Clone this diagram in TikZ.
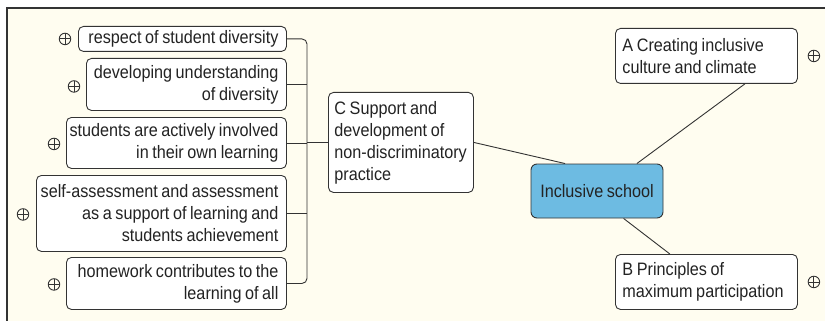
\documentclass[tikz,border=0pt]{standalone}
\usepackage{fontspec}
\setmainfont[FakeStretch=0.9]{Liberation Sans}
\usetikzlibrary{calc}
\definecolor{paper}{HTML}{FFFDF0}
\definecolor{ink}{HTML}{232323}
\definecolor{edge}{HTML}{333333}
\definecolor{rootblue}{HTML}{6DBBE2}
% narrow interword space for the diagram labels
\newskip\labelspace
\labelspace=3.6pt plus 1pt minus 0.5pt
\newcommand\tightspaces{\spaceskip=\labelspace}
% one unbreakable line, flush right or flush left in the text block
\newcommand\rline[1]{\makebox[\linewidth][r]{#1}}
\newcommand\lline[1]{\makebox[\linewidth][l]{#1}}
\begin{document}
\begin{tikzpicture}[x=1pt,y=-1pt,
  txt/.style={font=\fontsize{18}{22}\selectfont, text=ink,
    execute at begin node=\tightspaces},
  topic/.style={txt, draw=edge, line width=0.9pt, fill=white, rounded corners=5pt,
    inner ysep=1pt, anchor=north west},
  leaf/.style={topic, inner xsep=8pt, align=right},
  branch/.style={topic, inner xsep=7pt, align=left},
  root/.style={txt, draw=edge, line width=0.9pt, fill=rootblue, rounded corners=6pt,
    minimum width=132pt, minimum height=54pt, inner sep=2pt},
  plusmark/.style={circle, draw=edge, line width=0.9pt, minimum size=11.5pt, inner sep=0pt,
    path picture={\draw[edge, line width=0.9pt]
      (path picture bounding box.west) -- (path picture bounding box.east)
      (path picture bounding box.north) -- (path picture bounding box.south);}},
  conn/.style={draw=edge, line width=0.9pt}]

% page and frame
\useasboundingbox (0,0) rectangle (825,321);
\fill[white] (0,0) rectangle (825,321);
\fill[paper] (7,8) rectangle (825,321);
\draw[edge, line width=1.2pt] (7,321) -- (7,8) -- (825,8);

% sub-topics of C
\node[leaf, text width=192pt, minimum height=25pt] (respect) at (78,26)
  {\rline{respect of student diversity}};
\node[leaf, text width=184pt, minimum height=52pt] (developing) at (86,58)
  {\rline{developing understanding}\\\rline{of diversity}};
\node[leaf, text width=204pt, minimum height=51pt] (involved) at (66,117)
  {\rline{students are actively involved}\\\rline{in their own learning}};
\node[leaf, text width=234pt, minimum height=76pt] (assess) at (36,175)
  {\rline{self-assessment and assessment}\\\rline{as a support of learning and}\\\rline{students achievement}};
\node[leaf, text width=204pt, minimum height=52pt] (homework) at (66,257)
  {\rline{homework contributes to the}\\\rline{learning of all}};

% main branches
\node[branch, inner xsep=6pt, text width=133pt, minimum height=100pt] (C) at (328,92)
  {\lline{C Support and}\\\lline{development of}\\\lline{non-discriminatory}\\\lline{practice}};
\node[branch, text width=168pt, minimum height=55pt] (A) at (615,28)
  {\lline{A Creating inclusive}\\\lline{culture and climate}};
\node[branch, text width=168pt, minimum height=55pt] (B) at (615,254)
  {\lline{B Principles of}\\\lline{maximum participation}};
\node[root] (incl) at (597,191) {Inclusive school};

% expand markers
\node[plusmark] (pRespect) at ($(respect.west)+(-13,0)$) {};
\node[plusmark] (pDeveloping) at ($(developing.west)+(-12,2)$) {};
\node[plusmark] (pInvolved) at ($(involved.west)+(-12,1)$) {};
\node[plusmark] (pAssess) at ($(assess.west)+(-13,1)$) {};
\node[plusmark] (pHomework) at ($(homework.west)+(-12,1)$) {};
\node[plusmark] (pA) at ($(A.east)+(16,0)$) {};
\node[plusmark] (pB) at ($(B.east)+(16,0)$) {};

% bracket joining the sub-topics to C
\coordinate (spine) at (307,0);
\draw[conn, rounded corners=5pt] (respect.east) -- (respect.east -| spine)
  -- (homework.east -| spine) -- (homework.east);
\draw[conn] (developing.east) -- (developing.east -| spine);
\draw[conn] (involved.east) -- (involved.east -| spine);
\draw[conn] (assess.east) -- (assess.east -| spine);
\draw[conn] (C.west) -- (C.west -| spine);

% branches to the central topic
\draw[conn] (C.east) -- ($(incl.north west)!0.26!(incl.north east)$);
\draw[conn] ($(A.south west)!0.71!(A.south east)$) -- ($(incl.north west)!0.80!(incl.north east)$);
\draw[conn] ($(incl.south west)!0.70!(incl.south east)$) -- ($(B.north west)!0.30!(B.north east)$);
\end{tikzpicture}
\end{document}
